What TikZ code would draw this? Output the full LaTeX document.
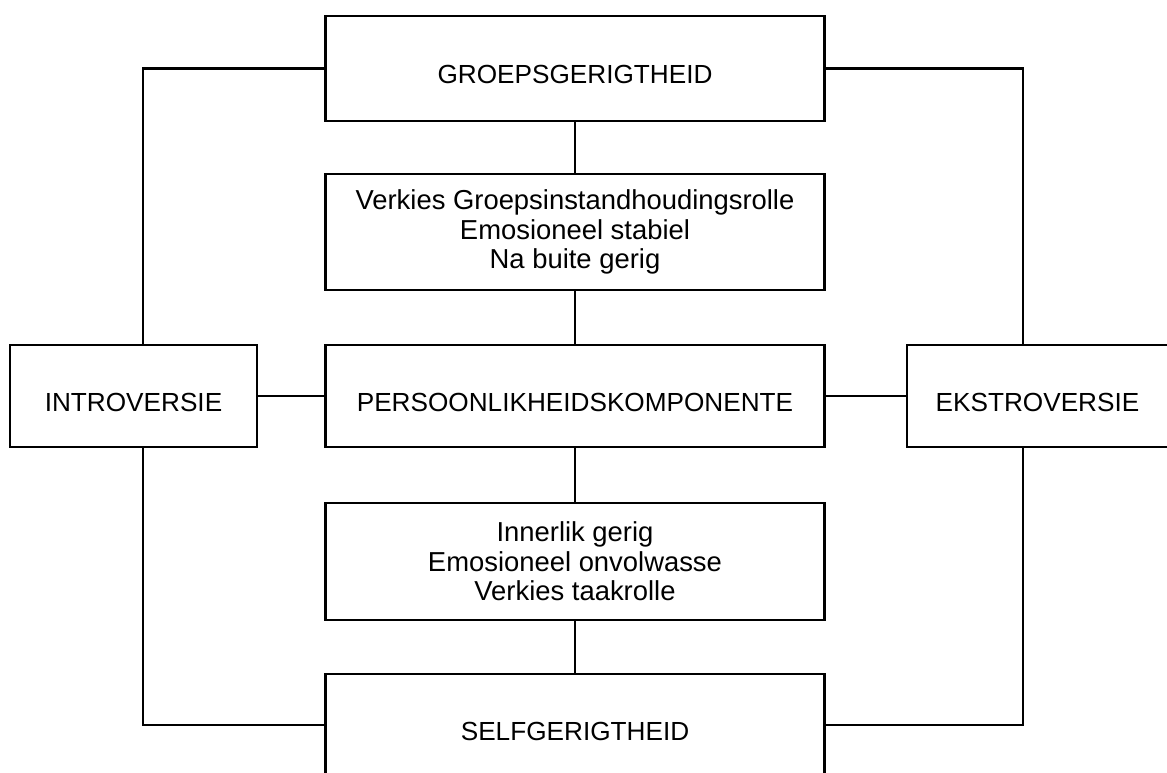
\documentclass[tikz,border=0pt]{standalone}
\usepackage{fontspec}
\setmainfont{Liberation Sans}
\begin{document}
\begin{tikzpicture}[x=0.02cm,y=-0.02cm,
  box/.style={draw, line width=1.5pt, rectangle, inner sep=0pt, align=center},
  caps/.style={font=\fontsize{14.9pt}{16pt}\selectfont, text height=0.62cm, text depth=0pt},
  lines/.style={font=\fontsize{15.6pt}{16.8pt}\selectfont},
  link/.style={line width=1.5pt}]
\useasboundingbox (0,0) rectangle (1167,773);

% central column
\node[box, caps, minimum width=499*0.02cm, minimum height=105*0.02cm] (top) at (575,68.5) {GROEPSGERIGTHEID};
\node[box, lines, minimum width=499*0.02cm, minimum height=116*0.02cm] (upper) at (575,232)
  {Verkies Groepsinstandhoudingsrolle\\Emosioneel stabiel\\Na buite gerig};
\node[box, caps, minimum width=499*0.02cm, minimum height=102*0.02cm] (mid) at (575,396) {PERSOONLIKHEIDSKOMPONENTE};
\node[box, lines, minimum width=499*0.02cm, minimum height=117*0.02cm] (lower) at (575,561.5)
  {Innerlik gerig\\Emosioneel onvolwasse\\Verkies taakrolle};
\node[box, caps, minimum width=499*0.02cm, minimum height=102*0.02cm] (bot) at (575,725) {SELFGERIGTHEID};

% side boxes
\node[box, caps, minimum width=247*0.02cm, minimum height=102*0.02cm] (intro) at (133.5,396) {INTROVERSIE};
\node[box, caps, minimum width=261*0.02cm, minimum height=102*0.02cm] (ekstro) at (1037.5,396) {EKSTROVERSIE};

% spine
\draw[link] (top) -- (upper);
\draw[link] (upper) -- (mid);
\draw[link] (mid) -- (lower);
\draw[link] (lower) -- (bot);

% horizontal links
\draw[link] (intro.east) -- (mid.west);
\draw[link] (mid.east) -- (ekstro.west);

% outer frame links
\draw[link] (top.west) -| ([xshift=0.19cm]intro.north);
\draw[link] ([xshift=0.19cm]intro.south) |- (bot.west);
\draw[link] (top.east) -| ([xshift=-0.29cm]ekstro.north);
\draw[link] ([xshift=-0.29cm]ekstro.south) |- (bot.east);
\end{tikzpicture}
\end{document}
